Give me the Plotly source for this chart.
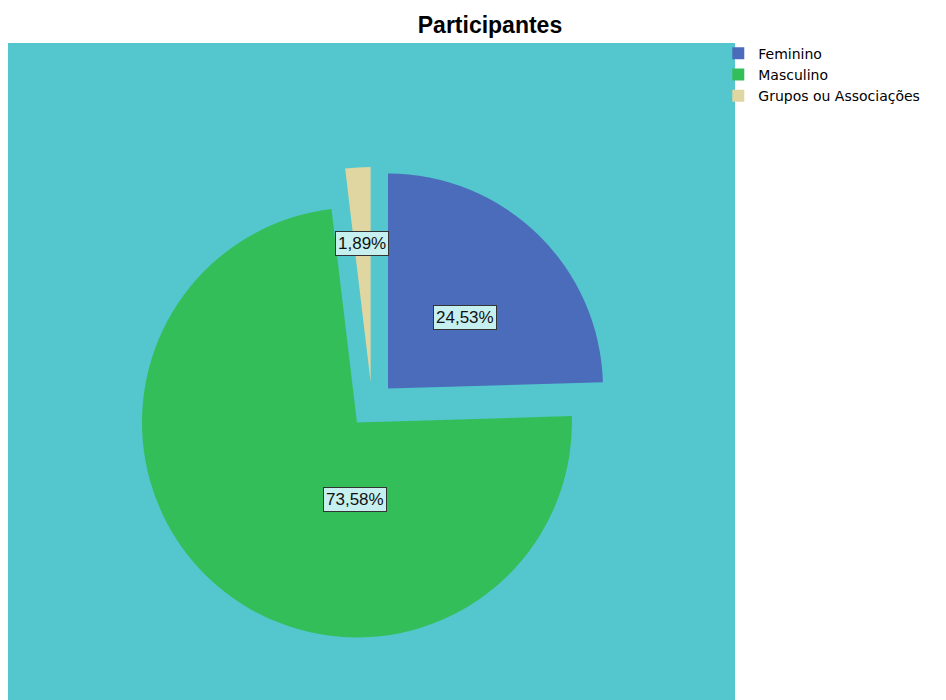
import plotly.graph_objects as go

# dados
categorias = ["Feminino", "Masculino", "Grupos ou Associações"]
percentuais = [24.53, 73.58, 1.89]
rotulos = ["24,53%", "73,58%", "1,89%"]
cores = ["#4B6BBB", "#34BE5A", "#E0D6A1"]

fig = go.Figure()

fig.add_trace(
    go.Pie(
        labels=categorias,
        values=percentuais,
        sort=False,
        direction="clockwise",
        rotation=0,
        pull=[0.107, 0.107, 0.107],
        marker=dict(colors=cores, line=dict(width=0)),
        textinfo="none",
        hoverinfo="label+percent",
        domain=dict(x=[0.1733, 0.828], y=[0.0977, 0.8135]),
    )
)

# posições dos rótulos (papel)
pos_rotulos = [(0.6285, 0.5868), (0.4775, 0.2948), (0.4875, 0.7173)]

anotacoes = []
for texto, (px, py) in zip(rotulos, pos_rotulos):
    anotacoes.append(dict(
        x=px, y=py, xref="paper", yref="paper",
        text=texto, showarrow=False,
        font=dict(family="Liberation Sans, Arial", size=17, color="#111111"),
        bgcolor="#C6F0F0", bordercolor="#333333", borderwidth=1, borderpad=2,
    ))

fig.update_layout(
    width=946,
    height=700,
    paper_bgcolor="white",
    margin=dict(l=0, r=219, t=35, b=0),
    title=dict(
        text="<b>Participantes</b>",
        x=0.5095, xanchor="center",
        y=0.9757, yanchor="middle",
        font=dict(family="Liberation Sans, Arial", size=23, color="black"),
    ),
    shapes=[dict(
        type="rect", xref="paper", yref="paper",
        x0=0, x1=1, y0=0, y1=1,
        fillcolor="#53C6CE", line=dict(width=0), layer="below",
    )],
    annotations=anotacoes,
    legend=dict(
        x=0.977, y=1.008, xanchor="left", yanchor="top",
        font=dict(family="DejaVu Sans", size=14, color="black"),
        bgcolor="rgba(0,0,0,0)",
        tracegroupgap=0, itemwidth=30,
    ),
)

fig.write_html("out.html")
